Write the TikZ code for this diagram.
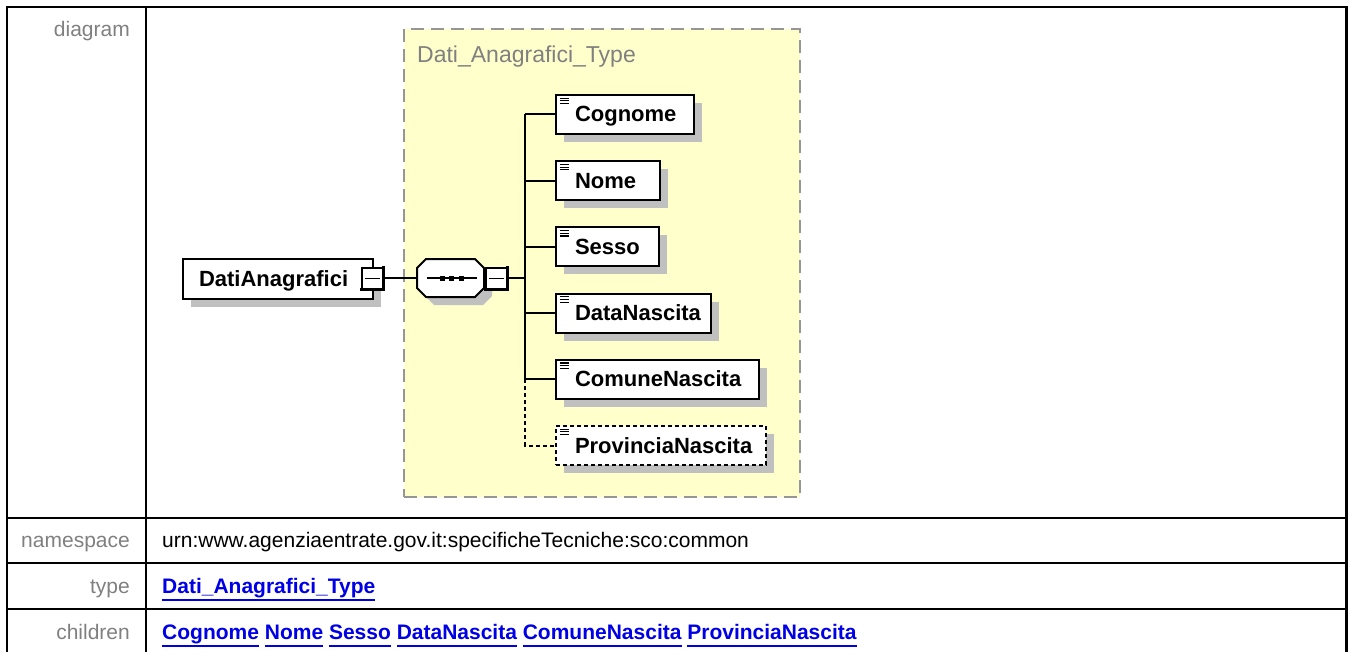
\documentclass[tikz,border=0pt]{standalone}
\usepackage{fontspec}
\setmainfont{Liberation Sans}
\usetikzlibrary{shadows}
\definecolor{lblgray}{RGB}{128,128,128}
\definecolor{linkblue}{RGB}{0,0,230}
\definecolor{typeyellow}{RGB}{255,255,204}
\definecolor{dashgray}{RGB}{150,150,150}
\definecolor{shadowgray}{RGB}{192,192,192}
\newlength\lnkw
\newcommand\lnk[1]{\settowidth\lnkw{#1}\rlap{\rule[-8pt]{\lnkw}{2pt}}#1}
\newcommand\tblfont{\fontsize{21}{25}\selectfont}
\newcommand\elfont{\fontsize{22}{26}\selectfont\bfseries}
\newcommand\ttlfont{\fontsize{23}{27}\selectfont}
\newcommand\octpath{(-33.5,10) -- (-24.5,19) -- (24.5,19) -- (33.5,10) -- (33.5,-10) -- (24.5,-19) -- (-24.5,-19) -- (-33.5,-10) -- cycle}
\begin{document}
\begin{tikzpicture}[x=1pt,y=1pt,
  tline/.style={line width=2.2pt},
  lbl/.style={font=\tblfont, text=lblgray, anchor=base east, inner sep=0pt},
  val/.style={font=\tblfont, anchor=base west, inner sep=0pt},
  lnkval/.style={font=\tblfont\bfseries, text=linkblue, anchor=base west, inner sep=0pt},
  typebox/.style={draw=dashgray, fill=typeyellow, line width=2pt, dash pattern=on 13pt off 7pt, anchor=north west, inner sep=0pt},
  elshadow/.style={general shadow={fill=shadowgray, draw=none, shadow xshift=8pt, shadow yshift=-8pt}},
  elbox/.style={draw=black, fill=white, line width=2pt, anchor=north west, inner sep=0pt,
    minimum height=39pt, font=\elfont, text height=15pt, text depth=0pt, elshadow},
  elicon/.style={path picture={\foreach \d in {3.2,5.9,8.6}{\draw[line width=1.1pt, solid] ([xshift=3.8pt,yshift=-\d pt]path picture bounding box.north west) -- ++(9pt,0pt);}}},
  optbox/.style={dash pattern=on 4pt off 3pt},
  minusbox/.style={draw=black, fill=white, line width=1.6pt, minimum width=21pt, minimum height=21pt, inner sep=0pt},
  seqbox/.style={draw=none, minimum width=67pt, minimum height=38pt, inner sep=0pt},
  dotsq/.style={fill=black, minimum size=5pt, inner sep=0pt},
  conn/.style={line width=2pt},
]
\useasboundingbox (0,0) rectangle (1348,-652);

% table
\draw[tline] (6.7,-660) -- (6.7,-6.7) -- (1346.5,-6.7) -- (1346.5,-660);
\draw[tline] (145.7,-6.7) -- (145.7,-660);
\draw[tline] (6.7,-517.7) -- (1346.5,-517.7);
\draw[tline] (6.7,-563.3) -- (1346.5,-563.3);
\draw[tline] (6.7,-609.3) -- (1346.5,-609.3);

\node[lbl] (ldiag) at (130,-37) {diagram};
\node[lbl] (lns) at (130,-547.5) {namespace};
\node[lbl] (ltype) at (130,-593) {type};
\node[lbl] (lch) at (130,-639) {children};
\node[val] (vns) at (162,-547.5) {urn:www.agenziaentrate.gov.it:specificheTecniche:sco:common};
\node[lnkval] (vtype) at (162,-593) {\lnk{Dati\_Anagrafici\_Type}};
\node[lnkval] (vch) at (162,-639) {\lnk{Cognome} \lnk{Nome} \lnk{Sesso} \lnk{DataNascita} \lnk{ComuneNascita} \lnk{ProvinciaNascita}};

% complex type box
\node[typebox, minimum width=396pt, minimum height=468pt] (ctype) at (403,-28) {};
\node[font=\ttlfont, text=lblgray, anchor=base west, inner sep=0pt] (ttl) at (417,-62.5) {Dati\_Anagrafici\_Type};

% main element
\node[elbox, minimum width=190pt, minimum height=40pt] (da) at (182,-258) {\makebox[190pt][l]{\hspace{16pt}DatiAnagrafici}};
\node[minusbox] (dam) at (372.5,-278.5) {};
\draw[line width=1.4pt, shorten <=4pt, shorten >=4pt] (dam.west) -- (dam.east);
\draw[line width=3pt] ([yshift=1pt]dam.north east) -- (dam.south east) -- ([xshift=-1pt]dam.south west);

% sequence
\node[seqbox] (seq) at (450.5,-278) {};
\fill[shadowgray, shift={(458.5,-286)}] \octpath;
\draw[fill=white, line width=2pt, shift={(450.5,-278)}] \octpath;
\draw[line width=1.6pt, shorten <=10pt, shorten >=7pt] (seq.west) -- (seq.east);
\node[dotsq] (s1) at (442,-278) {};
\node[dotsq] (s2) at (451,-278) {};
\node[dotsq] (s3) at (461,-278) {};
\node[minusbox] (sm) at (496.5,-278.5) {};
\draw[line width=1.4pt, shorten <=4pt, shorten >=4pt] (sm.west) -- (sm.east);
\draw[line width=3pt] ([yshift=1pt]sm.north east) -- (sm.south east) -- ([xshift=-1pt]sm.south west);

\coordinate (bus) at (525,-278);
\draw[conn] (dam.east |- bus) -- (seq.west);
\draw[conn] (sm.east |- bus) -- (bus);

% children
\node[elbox, elicon] (cog) at (555,-94) {\makebox[138pt][l]{\hspace{19pt}Cognome}};
\node[elbox, elicon] (nom) at (555,-160.2) {\makebox[104pt][l]{\hspace{19pt}Nome}};
\node[elbox, elicon] (ses) at (555,-226.4) {\makebox[103pt][l]{\hspace{19pt}Sesso}};
\node[elbox, elicon] (dat) at (555,-292.6) {\makebox[155pt][l]{\hspace{19pt}DataNascita}};
\node[elbox, elicon] (com) at (555,-358.8) {\makebox[203pt][l]{\hspace{19pt}ComuneNascita}};
\node[elbox, elicon, optbox] (prov) at (555,-425) {\makebox[210pt][l]{\hspace{19pt}ProvinciaNascita}};

\draw[conn] (cog.west -| bus) -- (com.west -| bus);
\foreach \c in {cog,nom,ses,dat,com}{\draw[conn] (\c.west -| bus) -- (\c.west);}
\draw[conn, dash pattern=on 4pt off 3pt] (com.west -| bus) |- (prov.west);
\end{tikzpicture}
\end{document}
